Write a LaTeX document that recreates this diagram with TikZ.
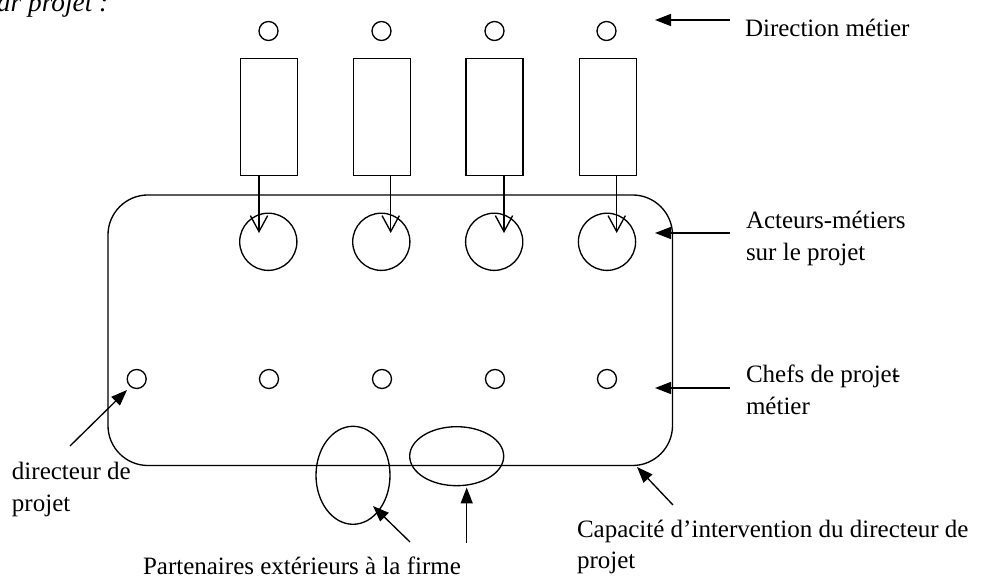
\documentclass[tikz,border=0pt]{standalone}
\usepackage{fontspec}
\setmainfont{Liberation Serif}
\usetikzlibrary{arrows.meta,calc,shapes.geometric}
\begin{document}
\begin{tikzpicture}[x=0.75pt,y=-0.75pt,
  every node/.style={inner sep=0pt,outer sep=0pt},
  dot/.style={circle,draw,line width=1pt,minimum size=14.25pt},
  actor/.style={circle,draw,line width=1pt,minimum size=42.9pt},
  dirbox/.style={rectangle,draw,line width=1pt,minimum width=42.75pt,minimum height=87.75pt},
  vell/.style={ellipse,draw,line width=1pt,minimum width=55.5pt,minimum height=73.5pt},
  hell/.style={ellipse,draw,line width=1pt,minimum width=70.5pt,minimum height=44.25pt},
  farrow/.style={line width=1pt,-{Triangle[length=12pt,width=9pt]}},
  varrow/.style={line width=1pt,-{Straight Barb[length=12pt,width=13pt]}},
  lbl/.style={anchor=base west,font=\fontsize{18.75pt}{24pt}\selectfont}]
\useasboundingbox (0,0) rectangle (982,580);
\clip (0,0) rectangle (982,580);
% heading fragment (cut off at the top edge, as in the reference)
\node[anchor=base west,font=\fontsize{20.5pt}{24pt}\selectfont\itshape] (hd) at (-3,12) {ar projet :};
% project frame
\node[draw,line width=1pt,rectangle,rounded corners=30pt,minimum width=423.4pt,minimum height=202.9pt] (frame) at (390.25,330.25) {};
% top row of small circles
\node[dot] (d1) at (268.5,31) {};
\node[dot] (d2) at (381.5,31) {};
\node[dot] (d3) at (494.5,31) {};
\node[dot] (d4) at (606.5,31) {};
% boxes
\node[dirbox] (r1) at (269.2,117.3) {};
\node[dirbox] (r2) at (382.2,117.3) {};
\node[dirbox] (r3) at (494.5,117.3) {};
\node[dirbox] (r4) at (608.3,117.3) {};
% actor circles
\node[actor] (c1) at (268.3,241.8) {};
\node[actor] (c2) at (381.3,241.8) {};
\node[actor] (c3) at (494.2,241.8) {};
\node[actor] (c4) at (607,241.8) {};
% arrow tips inside actor circles
\coordinate (t1) at (259,233);
\coordinate (t2) at (390.7,233);
\coordinate (t3) at (504,233);
\coordinate (t4) at (616.7,233);
\draw[varrow] (t1 |- r1.south) -- (t1);
\draw[varrow] (t2 |- r2.south) -- (t2);
\draw[varrow] (t3 |- r3.south) -- (t3);
\draw[varrow] (t4 |- r4.south) -- (t4);
% middle row of small circles
\node[dot] (m0) at (136.7,379) {};
\node[dot] (m1) at (269,379) {};
\node[dot] (m2) at (382,379) {};
\node[dot] (m3) at (495,379) {};
\node[dot] (m4) at (607,379) {};
% partner ellipses
\node[vell] (e1) at (353,475.3) {};
\node[hell] (e2) at (456.7,456.2) {};
% labels
\node[lbl] (dm) at (745,37) {Direction métier};
\node[lbl] (am1) at (746,229) {Acteurs-métiers};
\node[lbl] (am2) at (746,261) {sur le projet};
\node[lbl] (cp1) at (746,383) {Chefs de projet\kern-5pt-};
\node[lbl] (cp2) at (746,415) {métier};
\node[lbl] (dp1) at (12,480) {directeur de};
\node[lbl] (dp2) at (12,512) {projet};
\node[lbl] (pe) at (143,575) {Partenaires extérieurs à la firme};
\node[lbl] (ca1) at (577,538) {Capacité d’intervention du directeur de};
\node[lbl] (ca2) at (577,569) {projet};
% pointer arrows
\coordinate (a1s) at (730,20);   \coordinate (a1t) at (655,20);
\coordinate (a2s) at (730,233);  \coordinate (a2t) at (655,233);
\coordinate (a3s) at (730,388);  \coordinate (a3t) at (655,388);
\coordinate (a4s) at (70,446);   \coordinate (a4t) at (127,390);
\coordinate (a5s) at (410,542);  \coordinate (a5t) at (373,506);
\coordinate (a6s) at (466.7,543); \coordinate (a6t) at (466.7,487.5);
\coordinate (a7s) at (673,505);  \coordinate (a7t) at (637,467);
\draw[farrow] (a1s) -- (a1t);
\draw[farrow] (a2s) -- (a2t);
\draw[farrow] (a3s) -- (a3t);
\draw[farrow] (a4s) -- (a4t);
\draw[farrow] (a5s) -- (a5t);
\draw[farrow] (a6s) -- (a6t);
\draw[farrow] (a7s) -- (a7t);
\end{tikzpicture}
\end{document}
